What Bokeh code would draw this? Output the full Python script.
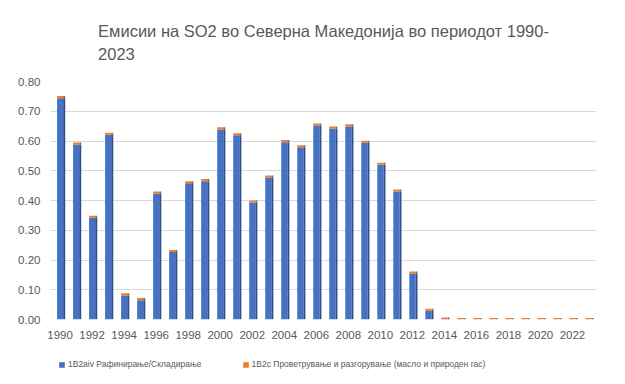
from bokeh.plotting import figure
from bokeh.models import (Range1d, FixedTicker, ColumnDataSource, Legend, LegendItem,
                          NumeralTickFormatter)
from bokeh.layouts import column
from bokeh.embed import file_html
from bokeh.resources import INLINE

years = list(range(1990, 2024))
refining_storage = [0.744, 0.588, 0.342, 0.621, 0.081, 0.065, 0.423, 0.227, 0.458, 0.465,
                    0.639, 0.619, 0.393, 0.477, 0.596, 0.579, 0.652, 0.642, 0.649, 0.594,
                    0.520, 0.430, 0.154, 0.029, 0.002, 0, 0, 0, 0, 0, 0, 0, 0, 0]
venting_flaring = [0.007, 0.007, 0.007, 0.007, 0.007, 0.007, 0.007, 0.007, 0.007, 0.007,
                   0.007, 0.007, 0.007, 0.007, 0.007, 0.007, 0.007, 0.007, 0.007, 0.007,
                   0.007, 0.007, 0.007, 0.007, 0.005, 0.005, 0.005, 0.005, 0.005, 0.005,
                   0.005, 0.005, 0.005, 0.005]
x_ticks = list(range(1990, 2023, 2))
y_ticks = [0.0, 0.1, 0.2, 0.3, 0.4, 0.5, 0.6, 0.7, 0.8]
title_text = "Емисии на SO2 во Северна Македонија во периодот 1990-\n2023"
series_names = ["1B2aiv Рафинирање/Складирање",
                "1B2c Проветрување и разгорување (масло и природен гас)"]

BLUE = "#4472C4"
BLUE_SIDE = "#2F4F8A"
ORANGE = "#ED7D31"
ORANGE_SIDE = "#B85A1C"
BAR_W = 0.38
SIDE = 0.13

total = [a + b for a, b in zip(refining_storage, venting_flaring)]
src = ColumnDataSource(dict(
    x=years,
    blue=refining_storage,
    orange=venting_flaring,
    total=total,
    side_l=[y + BAR_W / 2 for y in years],
    side_r=[y + BAR_W / 2 + SIDE for y in years],
))

FONT = "Liberation Sans"
GREY = "#595959"

p = figure(width=625, height=342, output_backend="svg", toolbar_location=None,
           x_range=Range1d(1989.4, 2023.5), y_range=Range1d(0, 0.8),
           min_border_left=50, min_border_right=29, min_border_top=81,
           min_border_bottom=23)

p.title.text = title_text
p.title.align = "center"
p.title.text_font = FONT
p.title.text_font_size = "16.5px"
p.title.text_font_style = "normal"
p.title.text_color = GREY
p.title.text_line_height = 1.3
p.title.standoff = 37

# side faces (3D look)
p.quad(left="side_l", right="side_r", bottom=0, top="blue", source=src,
       fill_color=BLUE_SIDE, line_color=None)
p.quad(left="side_l", right="side_r", bottom="blue", top="total", source=src,
       fill_color=ORANGE_SIDE, line_color=None)

p.vbar(x="x", width=BAR_W, bottom=0, top="blue", source=src,
       fill_color=BLUE, line_color=None)
p.vbar(x="x", width=BAR_W, bottom="blue", top="total", source=src,
       fill_color=ORANGE, line_color=None)

p.xaxis.ticker = FixedTicker(ticks=x_ticks)
p.yaxis.ticker = FixedTicker(ticks=y_ticks)
p.yaxis.formatter = NumeralTickFormatter(format="0.00")

for ax in (p.xaxis[0], p.yaxis[0]):
    ax.axis_line_color = None
    ax.major_tick_line_color = None
    ax.minor_tick_line_color = None
    ax.major_label_text_font = FONT
    ax.major_label_text_font_size = "11.5px"
    ax.major_label_text_color = GREY
p.yaxis.major_label_standoff = 4
p.xaxis.major_label_standoff = 5

p.xgrid.grid_line_color = None
p.ygrid.grid_line_color = "#D9D9D9"
p.ygrid.grid_line_width = 1
p.outline_line_color = None

# legend strip below the chart
lg = figure(width=625, height=42, output_backend="svg", toolbar_location=None,
            x_range=Range1d(0, 1), y_range=Range1d(0, 1),
            min_border_left=0, min_border_right=0, min_border_top=0,
            min_border_bottom=0)
lg.axis.visible = False
lg.grid.visible = False
lg.outline_line_color = None
dummy = ColumnDataSource(dict(x=[-5], top=[-5]))
r1 = lg.vbar(x="x", top="top", bottom=-6, width=0.1, source=dummy,
             fill_color=BLUE, line_color=None)
r2 = lg.vbar(x="x", top="top", bottom=-6, width=0.1, source=dummy,
             fill_color=ORANGE, line_color=None)

legend = Legend(items=[LegendItem(label=series_names[0], renderers=[r1]),
                       LegendItem(label=series_names[1], renderers=[r2])],
                orientation="horizontal", location=(8, 14),
                label_text_font=FONT, label_text_font_size="8.5px",
                label_text_color=GREY, glyph_width=7, glyph_height=7,
                label_standoff=3, label_height=12, spacing=40, padding=0, margin=0,
                border_line_color=None, background_fill_alpha=0)
lg.add_layout(legend, "center")

layout = column(p, lg, spacing=0)

open("out.html", "w").write(file_html(layout, INLINE))
